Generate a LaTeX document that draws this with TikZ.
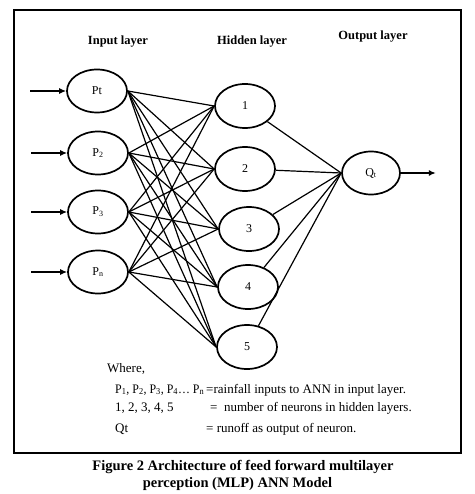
\documentclass[tikz,border=0pt]{standalone}
\usepackage{fontspec}
\usepackage{graphicx}
\setmainfont{Liberation Serif}
\usetikzlibrary{shapes.geometric,arrows.meta}
\begin{document}
\begin{tikzpicture}[x=1pt,y=-1pt,
 neuron/.style={ellipse,draw,line width=1.7pt,minimum width=60pt,minimum height=43pt,inner sep=0pt,font=\fontsize{12}{14}\selectfont},
 link/.style={line width=1.2pt},
 flowarrow/.style={line width=2pt,-{Latex[length=7pt,width=6pt]}},
 ttl/.style={font=\fontsize{12.5}{14}\selectfont\bfseries,inner sep=0pt},
 leg/.style={font=\fontsize{13}{15}\selectfont,anchor=base west,inner sep=0pt},
 captext/.style={font=\fontsize{14.5}{17}\selectfont\bfseries,inner sep=0pt}]
\useasboundingbox (0,0) rectangle (474,494);
\draw[line width=2.4pt] (14,10) rectangle (461,453);
% titles
\node[ttl] (tin) at (118,42) {Input layer};
\node[ttl] (thid) at (252,42) {Hidden layer};
\node[ttl] (tout) at (373,37) {Output layer};
% input layer
\node[neuron] (p1) at (97,91) {Pt};
\node[neuron] (p2) at (98,153) {P\textsubscript{2}};
\node[neuron] (p3) at (98,212) {P\textsubscript{3}};
\node[neuron] (pn) at (98,272) {P\textsubscript{n}};
% hidden layer
\node[neuron,minimum height=44pt] (h1) at (245,106) {1};
\node[neuron,minimum height=44pt] (h2) at (245,169) {2};
\node[neuron,minimum height=44pt] (h3) at (249,229) {3};
\node[neuron,minimum height=44pt] (h4) at (248,287) {4};
\node[neuron,minimum height=44pt] (h5) at (247,347) {5};
% output
\node[neuron,minimum width=58pt] (q) at (371,173) {Q\textsubscript{t}};
% input arrows
\foreach \p in {p1,p2,p3,pn}{
  \coordinate (s\p) at ([xshift=-36pt]\p.west);
  \draw[flowarrow] (s\p) -- (\p.west);
}
\coordinate (qend) at ([xshift=35pt]q.east);
\draw[flowarrow] (q.east) -- (qend);
% connections
\foreach \p in {p1,p2,p3,pn}{
  \foreach \h in {h1,h2,h3,h4,h5}{
    \draw[link] (\p.east) -- (\h.west);
  }
}
\foreach \h in {h1,h2,h3,h4,h5}{
  \draw[link] (\h) -- (q.west);
}
% legend
\node[leg] (w) at (107,372) {Where,};
\node[leg] (l1a) at (115,393) {\resizebox{89pt}{\height}{P\textsubscript{1}, P\textsubscript{2}, P\textsubscript{3}, P\textsubscript{4}\dots\ P\textsubscript{n}}};
\node[leg] (l1b) at (206,393) {=rainfall inputs to ANN in input layer.};
\node[leg] (l2a) at (115,411) {1, 2, 3, 4, 5};
\node[leg] (l2b) at (210,411) {=\ \ number of neurons in hidden layers.};
\node[leg] (l3a) at (115,432) {Qt};
\node[leg] (l3b) at (206,432) {= runoff as output of neuron.};
% caption
\node[captext] (c1) at (243,467) {Figure 2 Architecture of feed forward multilayer};
\node[captext] (c2) at (237.5,484) {perception (MLP) ANN Model};
\end{tikzpicture}
\end{document}
